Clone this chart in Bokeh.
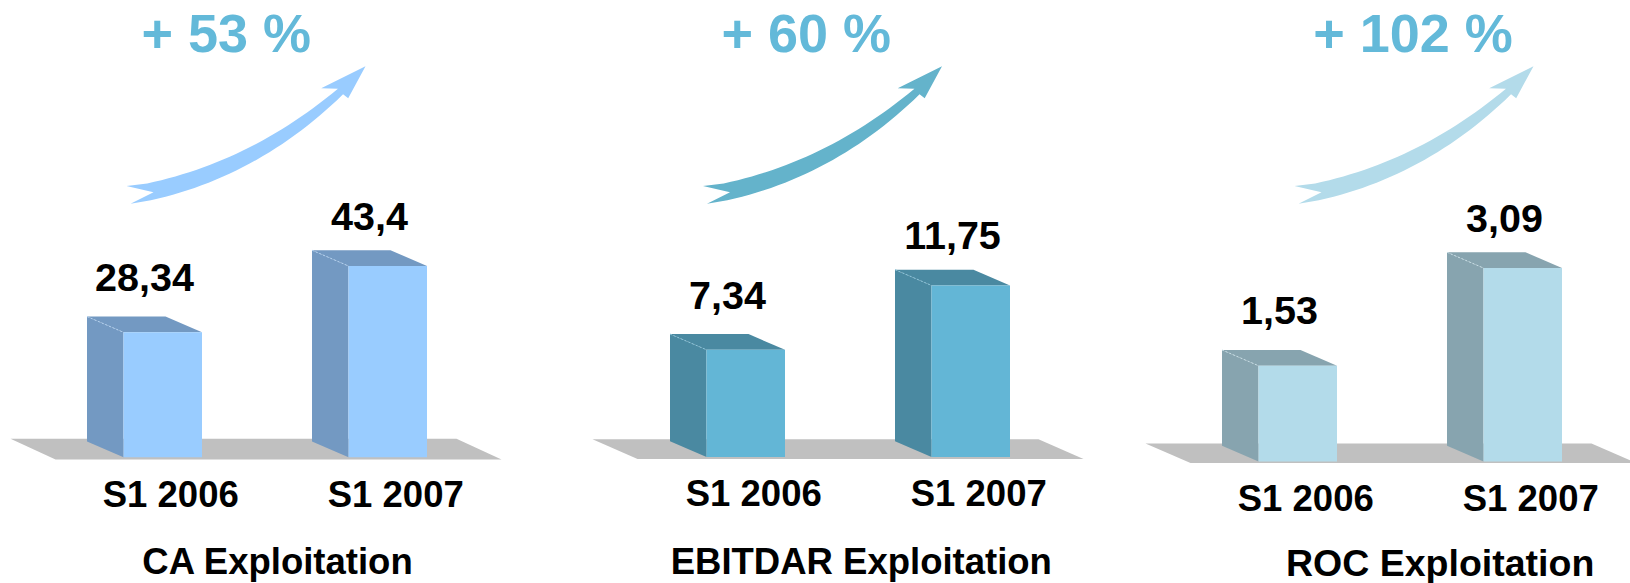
from bokeh.plotting import figure
from bokeh.models import Range1d
from bokeh.core.properties import value
from bokeh.embed import file_html
from bokeh.resources import INLINE

# ---------------- data ----------------
panels = ["CA Exploitation", "EBITDAR Exploitation", "ROC Exploitation"]
periods = ["S1 2006", "S1 2007"]
values_2006 = [28.34, 7.34, 1.53]
values_2007 = [43.4, 11.75, 3.09]
labels_2006 = ["28,34", "7,34", "1,53"]
labels_2007 = ["43,4", "11,75", "3,09"]
growth = ["+ 53 %", "+ 60 %", "+ 102 %"]

# ---------------- layout / style ----------------
W, H = 1630, 583
FONT = value("Liberation Sans")
baseline_px = [456.7, 456.5, 461.0]        # pixel row of value 0 per panel
px_per_unit = [4.405, 14.6, 62.6]          # scale per panel
bar_left = [[123, 348], [706, 931], [1258, 1483]]
bar_w = 78.5
ddx, ddy = -36.5, 15.8                      # 3D depth offset (px)
label_gap = [39, 34]                        # value label centre above back edge
floor_top = [438.3, 438.7, 443.0]
floor_bot = [459.0, 458.6, 462.5]
floor_x0 = [10, 592, 1145]
floor_w, floor_shift = 446, 45
front_col = ["#99CCFF", "#63B6D6", "#B3DBEA"]
side_col = ["#7399C2", "#4A89A1", "#87A4AF"]
edge_col = ["#B4D2F0", "#8CC4DA", "#C8DEE6"]
arrow_col = ["#99CCFF", "#64B3CB", "#B3DBEA"]
arrow_dx = [0, 576.5, 1168]
pct_x = [225.8, 805.8, 1412.5]
pct_y = 32.5
pct_col = "#63B9D9"
cat_y = [493.5, 493, 498]
title_x = [277.7, 860.8, 1285.5]
title_align = ["center", "center", "left"]
title_size = ["36.5px", "36.5px", "37.5px"]
title_y = [561, 561, 562.5]

p = figure(frame_width=W, frame_height=H, x_range=Range1d(0, W), y_range=Range1d(H, 0),
           output_backend="svg", toolbar_location=None, min_border=0, title=None,
           x_axis_type=None, y_axis_type=None)
p.grid.visible = False
p.outline_line_color = None
p.background_fill_color = "white"
p.border_fill_color = "white"

for k in range(3):
    S, B = px_per_unit[k], baseline_px[k]
    p.extra_y_ranges[f"p{k}"] = Range1d((B - H) / S, B / S)

# floors
for k in range(3):
    x0 = floor_x0[k]
    p.patch([x0, x0 + floor_w, x0 + floor_w + floor_shift, x0 + floor_shift],
            [floor_top[k], floor_top[k], floor_bot[k], floor_bot[k]],
            fill_color="#C0C0C0", line_color=None)

# arrows (curved band, tapering towards the head)
def arrow_shape(ox):
    P0, P1, P2 = (135, 194), (248.5, 173.5), (340, 91)
    ups, lows = [], []
    for i in range(30):
        t = 0.06 + 0.94 * i / 29
        hw = 8.6 - 4.8 * t * t
        cx = (1 - t) ** 2 * P0[0] + 2 * t * (1 - t) * P1[0] + t * t * P2[0]
        cy = (1 - t) ** 2 * P0[1] + 2 * t * (1 - t) * P1[1] + t * t * P2[1]
        tx = 2 * (1 - t) * (P1[0] - P0[0]) + 2 * t * (P2[0] - P1[0])
        ty = 2 * (1 - t) * (P1[1] - P0[1]) + 2 * t * (P2[1] - P1[1])
        n = (tx * tx + ty * ty) ** 0.5
        nx, ny = ty / n, -tx / n
        ups.append((cx + hw * nx, cy + hw * ny))
        lows.append((cx - hw * nx, cy - hw * ny))
    pts = [(153, 191.7), (126, 185.5)] + ups + [(320.7, 87.7), (365, 65.7), (347.7, 97.7)] \
        + lows[::-1] + [(130, 203.3)]
    return [q[0] + ox for q in pts], [q[1] for q in pts]

for k in range(3):
    xs, ys = arrow_shape(arrow_dx[k])
    p.patch(xs, ys, fill_color=arrow_col[k], line_color=None)

# bars
for k in range(3):
    S = px_per_unit[k]
    d = ddy / S
    rn = f"p{k}"
    vals = [values_2006[k], values_2007[k]]
    labs = [labels_2006[k], labels_2007[k]]
    for j in range(2):
        v = vals[j]
        xl = bar_left[k][j]
        xr = xl + bar_w
        p.patch([xl, xl, xl + ddx, xl + ddx], [0, v, v + d, d],
                fill_color=side_col[k], line_color=None, y_range_name=rn)
        p.patch([xl, xr, xr + ddx, xl + ddx], [v, v, v + d, v + d],
                fill_color=side_col[k], line_color=None, y_range_name=rn)
        p.line([xl + ddx, xl], [v + d, v], line_color=edge_col[k], line_width=1,
               line_dash="2 2", y_range_name=rn)
        p.quad(left=xl, right=xr, bottom=0, top=v, fill_color=front_col[k],
               line_color=None, y_range_name=rn)
        p.text(x=[xl + (ddx + bar_w) / 2], y=[v + d + label_gap[j] / S], text=[labs[j]],
               text_font=FONT, text_font_style="bold", text_font_size="39.5px",
               text_align="center", text_baseline="middle", text_color="black",
               y_range_name=rn)
        p.text(x=[xl + bar_w / 2 + 8], y=[cat_y[k]], text=[periods[j]],
               text_font=FONT, text_font_style="bold", text_font_size="36.5px",
               text_align="center", text_baseline="middle", text_color="black")
    p.text(x=[title_x[k]], y=[title_y[k]], text=[panels[k]],
           text_font=FONT, text_font_style="bold", text_font_size=title_size[k],
           text_align=title_align[k], text_baseline="middle", text_color="black")
    p.text(x=[pct_x[k]], y=[pct_y], text=[growth[k]],
           text_font=FONT, text_font_style="bold", text_font_size="54px",
           text_align="center", text_baseline="middle", text_color=pct_col)

open("out.html", "w").write(file_html(p, INLINE))
